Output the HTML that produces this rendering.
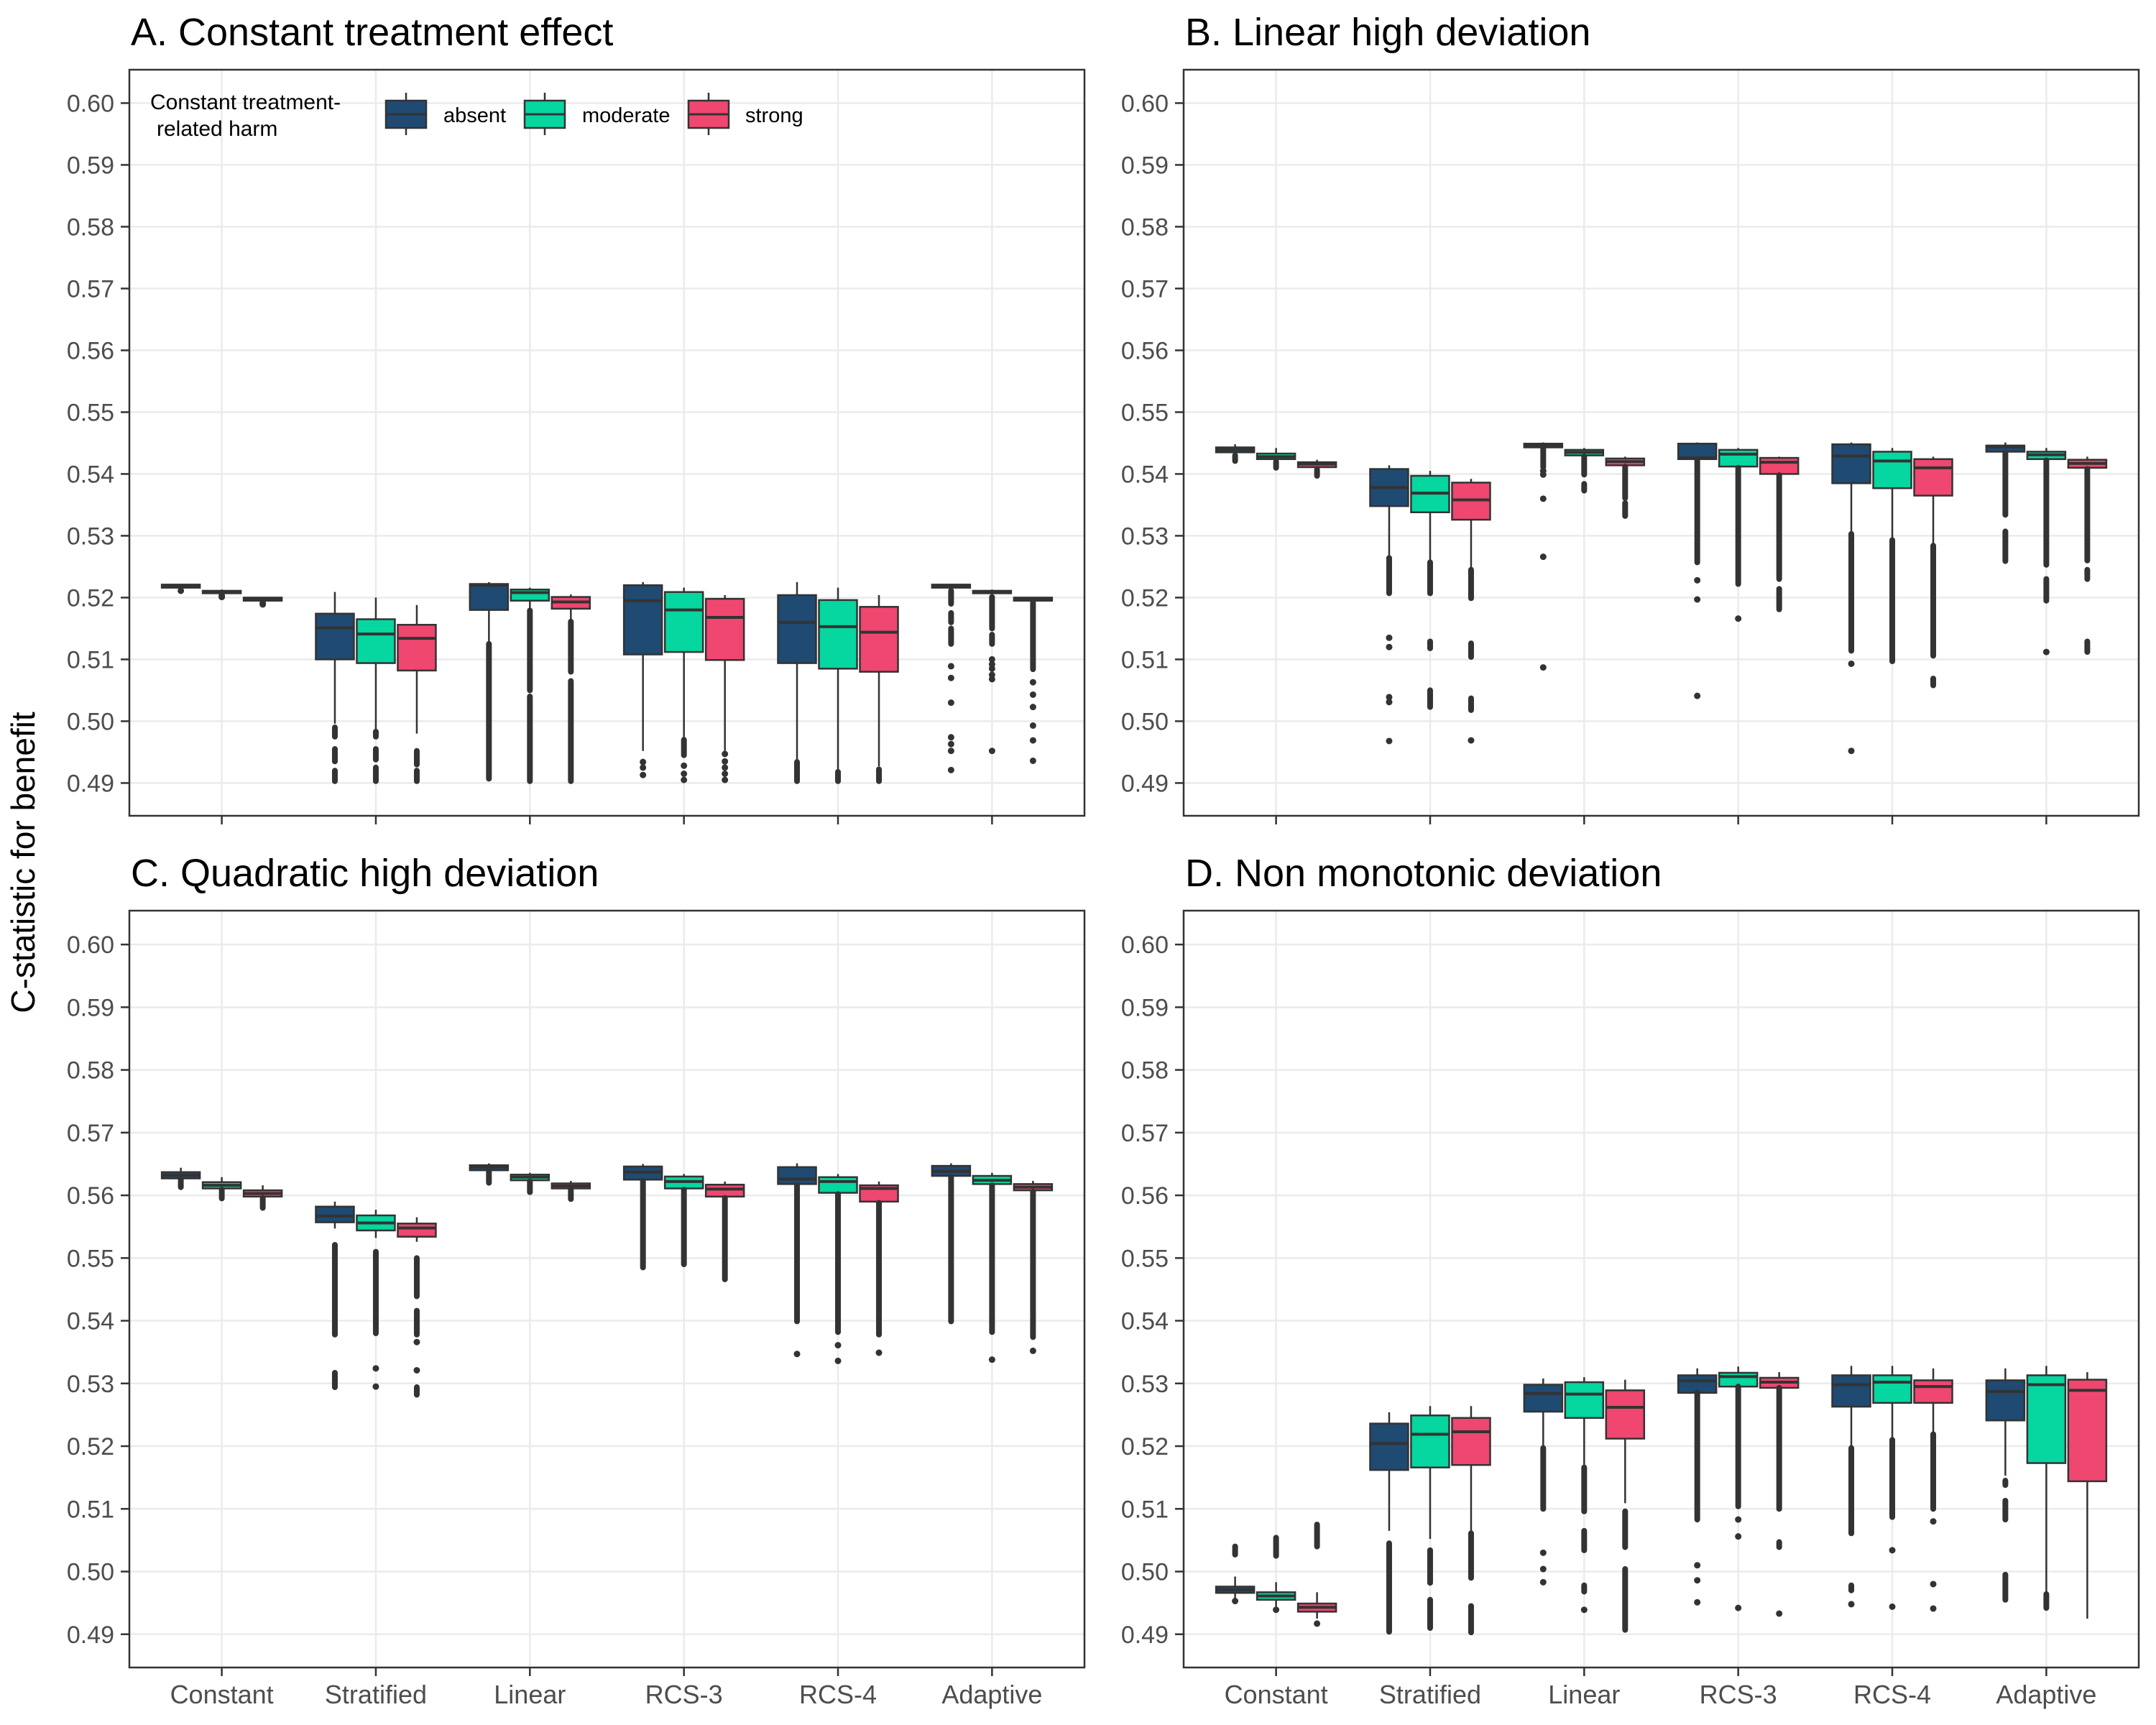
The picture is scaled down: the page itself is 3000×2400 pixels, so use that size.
<!DOCTYPE html>
<html><head><meta charset="utf-8">
<style>
html,body{margin:0;padding:0;background:#fff;}
svg{display:block;font-family:"Liberation Sans",Arial,sans-serif;}
</style></head>
<body>
<svg id="chart" width="3000" height="2400" viewBox="0 0 3000 2400" xmlns="http://www.w3.org/2000/svg">
<rect x="0" y="0" width="3000" height="2400" fill="#fff"/>
<text x="0" y="0" transform="translate(48,1200) rotate(-90)" text-anchor="middle" font-size="46" fill="#000">C-statistic for benefit</text>
</svg>
<script>
const categories = ["Constant","Stratified","Linear","RCS-3","RCS-4","Adaptive"];
const groups = ["absent","moderate","strong"];
const groupColors = ["#1f4a72","#06d6a0","#ef476f"];
const yTicks = [0.49,0.50,0.51,0.52,0.53,0.54,0.55,0.56,0.57,0.58,0.59,0.60];
const yTickLabels = ["0.49","0.50","0.51","0.52","0.53","0.54","0.55","0.56","0.57","0.58","0.59","0.60"];
const panelTitles = ["A. Constant treatment effect","B. Linear high deviation","C. Quadratic high deviation","D. Non monotonic deviation"];

// box stats: [lowerWhisker, q1, median, q3, upperWhisker], category-major, group-minor
const boxesA = [
[0.5214,0.5216,0.5219,0.5221,0.5222],[0.5204,0.5207,0.5209,0.5211,0.5213],[0.5193,0.5195,0.5197,0.5200,0.5201],
[0.4996,0.5100,0.5151,0.5174,0.5209],[0.4987,0.5094,0.5141,0.5165,0.5200],[0.4980,0.5082,0.5134,0.5156,0.5188],
[0.5125,0.5180,0.5220,0.5222,0.5225],[0.5179,0.5195,0.5208,0.5213,0.5216],[0.5161,0.5182,0.5193,0.5201,0.5205],
[0.4952,0.5108,0.5195,0.5220,0.5225],[0.4970,0.5112,0.5180,0.5209,0.5216],[0.4952,0.5099,0.5168,0.5198,0.5204],
[0.4934,0.5094,0.5160,0.5204,0.5225],[0.4922,0.5085,0.5153,0.5196,0.5216],[0.4927,0.5080,0.5144,0.5185,0.5204],
[0.5214,0.5216,0.5219,0.5221,0.5222],[0.5204,0.5207,0.5209,0.5211,0.5213],[0.5193,0.5195,0.5197,0.5200,0.5201]];
// outliers: number = single point, [a,b] = dense run of points
const outliersA = [
[0.5211],[0.5201,0.5203],[0.5189,0.5191],
[[0.4990,0.4975],[0.4955,0.4935],[0.4920,0.4903]],[[0.4983,0.4975],[0.4955,0.4938],[0.4925,0.4903]],[[0.4952,0.4930],[0.4920,0.4903]],
[[0.5125,0.4907]],[[0.5179,0.5050],[0.5040,0.4903]],[[0.5161,0.5080],[0.5065,0.4903]],
[0.4934,0.4925,0.4913],[[0.4970,0.4945],0.4928,0.4915,0.4905],[0.4947,0.4935,0.4925,0.4915,0.4905],
[[0.4934,0.4903]],[[0.4918,0.4903]],[[0.4922,0.4903]],
[[0.5211,0.5190],[0.5175,0.5160],[0.5150,0.5125],0.5089,0.5070,0.5030,0.4974,0.4963,0.4952,0.4921],
[[0.5201,0.5150],[0.5140,0.5125],0.5100,0.5092,0.5085,0.5075,0.5068,0.4952],
[[0.5192,0.5084],0.5063,0.5043,0.5023,0.4993,0.4969,0.4936]];

const boxesB = [
[0.5430,0.5435,0.5439,0.5443,0.5448],[0.5420,0.5424,0.5428,0.5433,0.5442],[0.5407,0.5411,0.5416,0.5419,0.5423],
[0.5264,0.5348,0.5378,0.5408,0.5414],[0.5257,0.5338,0.5369,0.5397,0.5405],[0.5245,0.5326,0.5358,0.5386,0.5392],
[0.5441,0.5443,0.5446,0.5449,0.5451],[0.5428,0.5430,0.5435,0.5439,0.5442],[0.5412,0.5414,0.5420,0.5425,0.5428],
[0.5422,0.5424,0.5426,0.5449,0.5451],[0.5410,0.5412,0.5432,0.5439,0.5442],[0.5398,0.5400,0.5419,0.5426,0.5428],
[0.5303,0.5385,0.5429,0.5448,0.5451],[0.5293,0.5377,0.5421,0.5436,0.5442],[0.5284,0.5365,0.5410,0.5424,0.5428],
[0.5434,0.5436,0.5444,0.5446,0.5451],[0.5422,0.5424,0.5431,0.5436,0.5442],[0.5408,0.5410,0.5417,0.5423,0.5428]];
const outliersB = [
[[0.5430,0.5421]],[[0.5420,0.5410]],[[0.5407,0.5397]],
[[0.5264,0.5207],0.5135,0.5120,0.5039,0.5031,0.4968],[[0.5257,0.5207],[0.5129,0.5118],[0.5050,0.5023]],[[0.5245,0.5199],[0.5126,0.5104],[0.5037,0.5018],0.4969],
[[0.5441,0.5411],0.5405,0.5399,0.5360,0.5266,0.5087],[[0.5428,0.5399],[0.5384,0.5373]],[[0.5412,0.5361],[0.5353,0.5332]],
[[0.5422,0.5257],0.5228,0.5197,0.5041],[[0.5410,0.5222],0.5166],[[0.5398,0.5230],[0.5214,0.5181]],
[[0.5303,0.5114],0.5093,0.4952],[[0.5293,0.5097]],[[0.5284,0.5106],[0.5069,0.5058]],
[[0.5434,0.5334],[0.5307,0.5259]],[[0.5422,0.5253],[0.5230,0.5195],0.5112],[[0.5408,0.5260],[0.5245,0.5230],[0.5129,0.5112]]];

const boxesC = [
[0.5625,0.5627,0.5632,0.5637,0.5644],[0.5609,0.5611,0.5616,0.5621,0.5629],[0.5596,0.5598,0.5603,0.5608,0.5616],
[0.5547,0.5557,0.5567,0.5582,0.5590],[0.5532,0.5544,0.5556,0.5568,0.5577],[0.5526,0.5534,0.5548,0.5555,0.5565],
[0.5638,0.5640,0.5645,0.5648,0.5651],[0.5622,0.5624,0.5629,0.5633,0.5636],[0.5609,0.5611,0.5615,0.5619,0.5623],
[0.5623,0.5625,0.5637,0.5646,0.5650],[0.5609,0.5611,0.5622,0.5630,0.5634],[0.5596,0.5598,0.5610,0.5617,0.5622],
[0.5616,0.5618,0.5626,0.5645,0.5651],[0.5602,0.5604,0.5622,0.5629,0.5634],[0.5588,0.5590,0.5611,0.5616,0.5622],
[0.5629,0.5631,0.5638,0.5647,0.5651],[0.5616,0.5618,0.5624,0.5631,0.5636],[0.5606,0.5608,0.5613,0.5618,0.5623]];
const outliersC = [
[[0.5625,0.5613]],[[0.5609,0.5595]],[[0.5596,0.5580]],
[[0.5521,0.5378],[0.5317,0.5294]],[[0.5510,0.5380],0.5324,0.5295],[[0.5500,0.5439],[0.5416,0.5378],0.5366,0.5321,[0.5294,0.5282]],
[[0.5638,0.5620]],[[0.5622,0.5605]],[[0.5609,0.5594]],
[[0.5623,0.5485]],[[0.5609,0.5490]],[[0.5596,0.5466]],
[[0.5616,0.5399],0.5347],[[0.5602,0.5382],0.5361,0.5336],[[0.5588,0.5378],0.5349],
[[0.5629,0.5399]],[[0.5616,0.5382],0.5338],[[0.5606,0.5374],0.5352]];

const boxesD = [
[0.4957,0.4966,0.4971,0.4976,0.4992],[0.4944,0.4955,0.4961,0.4967,0.4983],[0.4925,0.4936,0.4943,0.4949,0.4967],
[0.5065,0.5162,0.5204,0.5236,0.5254],[0.5052,0.5166,0.5219,0.5249,0.5264],[0.5062,0.5170,0.5223,0.5245,0.5264],
[0.5197,0.5255,0.5284,0.5298,0.5308],[0.5166,0.5245,0.5283,0.5302,0.5310],[0.5109,0.5212,0.5262,0.5289,0.5306],
[0.5285,0.5285,0.5304,0.5313,0.5324],[0.5295,0.5295,0.5311,0.5317,0.5327],[0.5293,0.5293,0.5302,0.5309,0.5318],
[0.5197,0.5263,0.5298,0.5313,0.5328],[0.5210,0.5269,0.5302,0.5313,0.5328],[0.5219,0.5269,0.5295,0.5305,0.5324],
[0.5153,0.5241,0.5287,0.5305,0.5324],[0.4964,0.5173,0.5298,0.5313,0.5328],[0.4925,0.5144,0.5289,0.5306,0.5318]];
const outliersD = [
[[0.5040,0.5027],0.4953],[[0.5054,0.5025],0.4939],[[0.5075,0.5040],0.4917],
[[0.5045,0.4904]],[[0.5034,0.4982],[0.4955,0.4910]],[[0.5061,0.4990],[0.4945,0.4903]],
[[0.5197,0.5100],0.5030,0.5004,0.4983],[[0.5166,0.5096],[0.5065,0.5034],[0.4978,0.4968],0.4939],[[0.5096,0.5039],[0.5004,0.4907]],
[[0.5285,0.5083],0.5010,0.4986,0.4951],[[0.5295,0.5104],0.5083,0.5056,0.4942],[[0.5293,0.5100],[0.5047,0.5039],0.4933],
[[0.5197,0.5061],[0.4978,0.4970],0.4948],[[0.5210,0.5087],0.5034,0.4944],[[0.5219,0.5100],0.5080,0.4980,0.4941],
[[0.5145,0.5138],[0.5113,0.5083],[0.4995,0.4955]],[[0.4964,0.4942]],[]];

const NS = "http://www.w3.org/2000/svg";
const svg = document.getElementById("chart");
const Y_MIN = 0.4847, Y_MAX = 0.6054;
const panels = [
 {key:"a", x0:180, x1:1509, y0:97, y1:1135, boxes:boxesA, outs:outliersA, xlabels:false},
 {key:"b", x0:1647, x1:2976, y0:97, y1:1135, boxes:boxesB, outs:outliersB, xlabels:false},
 {key:"c", x0:180, x1:1509, y0:1267, y1:2320, boxes:boxesC, outs:outliersC, xlabels:true},
 {key:"d", x0:1647, x1:2976, y0:1267, y1:2320, boxes:boxesD, outs:outliersD, xlabels:true}
];
function mk(tag, attrs, parent){
  const e = document.createElementNS(NS, tag);
  for (const k in attrs) e.setAttribute(k, attrs[k]);
  (parent||svg).appendChild(e);
  return e;
}
panels.forEach((p, pi) => {
  const yScale = v => p.y1 - (v - Y_MIN) / (Y_MAX - Y_MIN) * (p.y1 - p.y0);
  const step = (p.x1 - p.x0) / (categories.length - 1 + 1.2);
  const xScale = i => p.x0 + step * (0.6 + i);
  const dodge = 57, bw = 53;
  const g = mk("g", {});
  
  
  const t = mk("text", {x:p.x0+2, y:p.y0-34, "font-size":54, fill:"#000"}, g);
  t.textContent = panelTitles[pi];
  
  
  yTicks.forEach((v, i) => {
    const gl = mk("line", {x1:p.x0, x2:p.x1, y1:yScale(v), y2:yScale(v), stroke:"#ebebeb", "stroke-width":2.5}, g);
    
    
    const tk = mk("line", {x1:p.x0-12, x2:p.x0, y1:yScale(v), y2:yScale(v), stroke:"#333", "stroke-width":2.5}, g);
    
    
    const tl = mk("text", {x:p.x0-21, y:yScale(v)+12, "text-anchor":"end", "font-size":34, fill:"#4d4d4d"}, g);
    tl.textContent = yTickLabels[i];
    
    
  });
  categories.forEach((c, i) => {
    const gl = mk("line", {x1:xScale(i), x2:xScale(i), y1:p.y0, y2:p.y1, stroke:"#ebebeb", "stroke-width":2.5}, g);
    
    
    const tk = mk("line", {x1:xScale(i), x2:xScale(i), y1:p.y1, y2:p.y1+12, stroke:"#333", "stroke-width":2.5}, g);
    
    
    if (p.xlabels) {
      const tl = mk("text", {x:xScale(i), y:p.y1+50, "text-anchor":"middle", "font-size":36, fill:"#4d4d4d"}, g);
      tl.textContent = c;
      
      
    }
  });
  categories.forEach((c, ci) => {
    groups.forEach((gname, gi) => {
      const idx = ci * 3 + gi;
      const s = p.boxes[idx];
      const cx = xScale(ci) + (gi - 1) * dodge;
      const bg = mk("g", {}, g);
      
      
      mk("line", {x1:cx, x2:cx, y1:yScale(s[4]), y2:yScale(s[0]), stroke:"#333", "stroke-width":2.5}, bg);
      const top = yScale(s[3]), bot = yScale(s[1]);
      mk("rect", {x:cx-bw/2, y:top, width:bw, height:Math.max(bot-top,1), fill:groupColors[gi], stroke:"#333", "stroke-width":2.5}, bg);
      mk("line", {x1:cx-bw/2, x2:cx+bw/2, y1:yScale(s[2]), y2:yScale(s[2]), stroke:"#333", "stroke-width":4}, bg);
      p.outs[idx].forEach(o => {
        if (Array.isArray(o)) {
          const r = mk("line", {x1:cx, x2:cx, y1:yScale(o[0]), y2:yScale(o[1]), stroke:"#333", "stroke-width":8, "stroke-linecap":"round"}, bg);
          
          
        } else {
          const d = mk("circle", {cx:cx, cy:yScale(o), r:4.5, fill:"#333"}, bg);
          
          
        }
      });
    });
  });
  const border = mk("rect", {x:p.x0, y:p.y0, width:p.x1-p.x0, height:p.y1-p.y0, fill:"none", stroke:"#333", "stroke-width":2.5}, g);
  
  
});
const lg = mk("g", {});


const lt1 = mk("text", {x:209, y:152, "font-size":30, fill:"#000"}, lg);
lt1.textContent = "Constant treatment-";


const lt2 = mk("text", {x:218, y:189, "font-size":30, fill:"#000"}, lg);
lt2.textContent = "related harm";


const keyX = [537, 730, 958];
const labelX = [617, 810, 1037];
groups.forEach((gname, gi) => {
  const eg = mk("g", {}, lg);
  
  
  mk("line", {x1:keyX[gi]+28, x2:keyX[gi]+28, y1:129, y2:188, stroke:"#333", "stroke-width":2.5}, eg);
  mk("rect", {x:keyX[gi], y:140, width:56, height:38, fill:groupColors[gi], stroke:"#333", "stroke-width":2.5}, eg);
  mk("line", {x1:keyX[gi], x2:keyX[gi]+56, y1:159, y2:159, stroke:"#333", "stroke-width":3}, eg);
  const tx = mk("text", {x:labelX[gi], y:170, "font-size":29, fill:"#000"}, eg);
  tx.textContent = gname;
});
</script>
</body></html>
